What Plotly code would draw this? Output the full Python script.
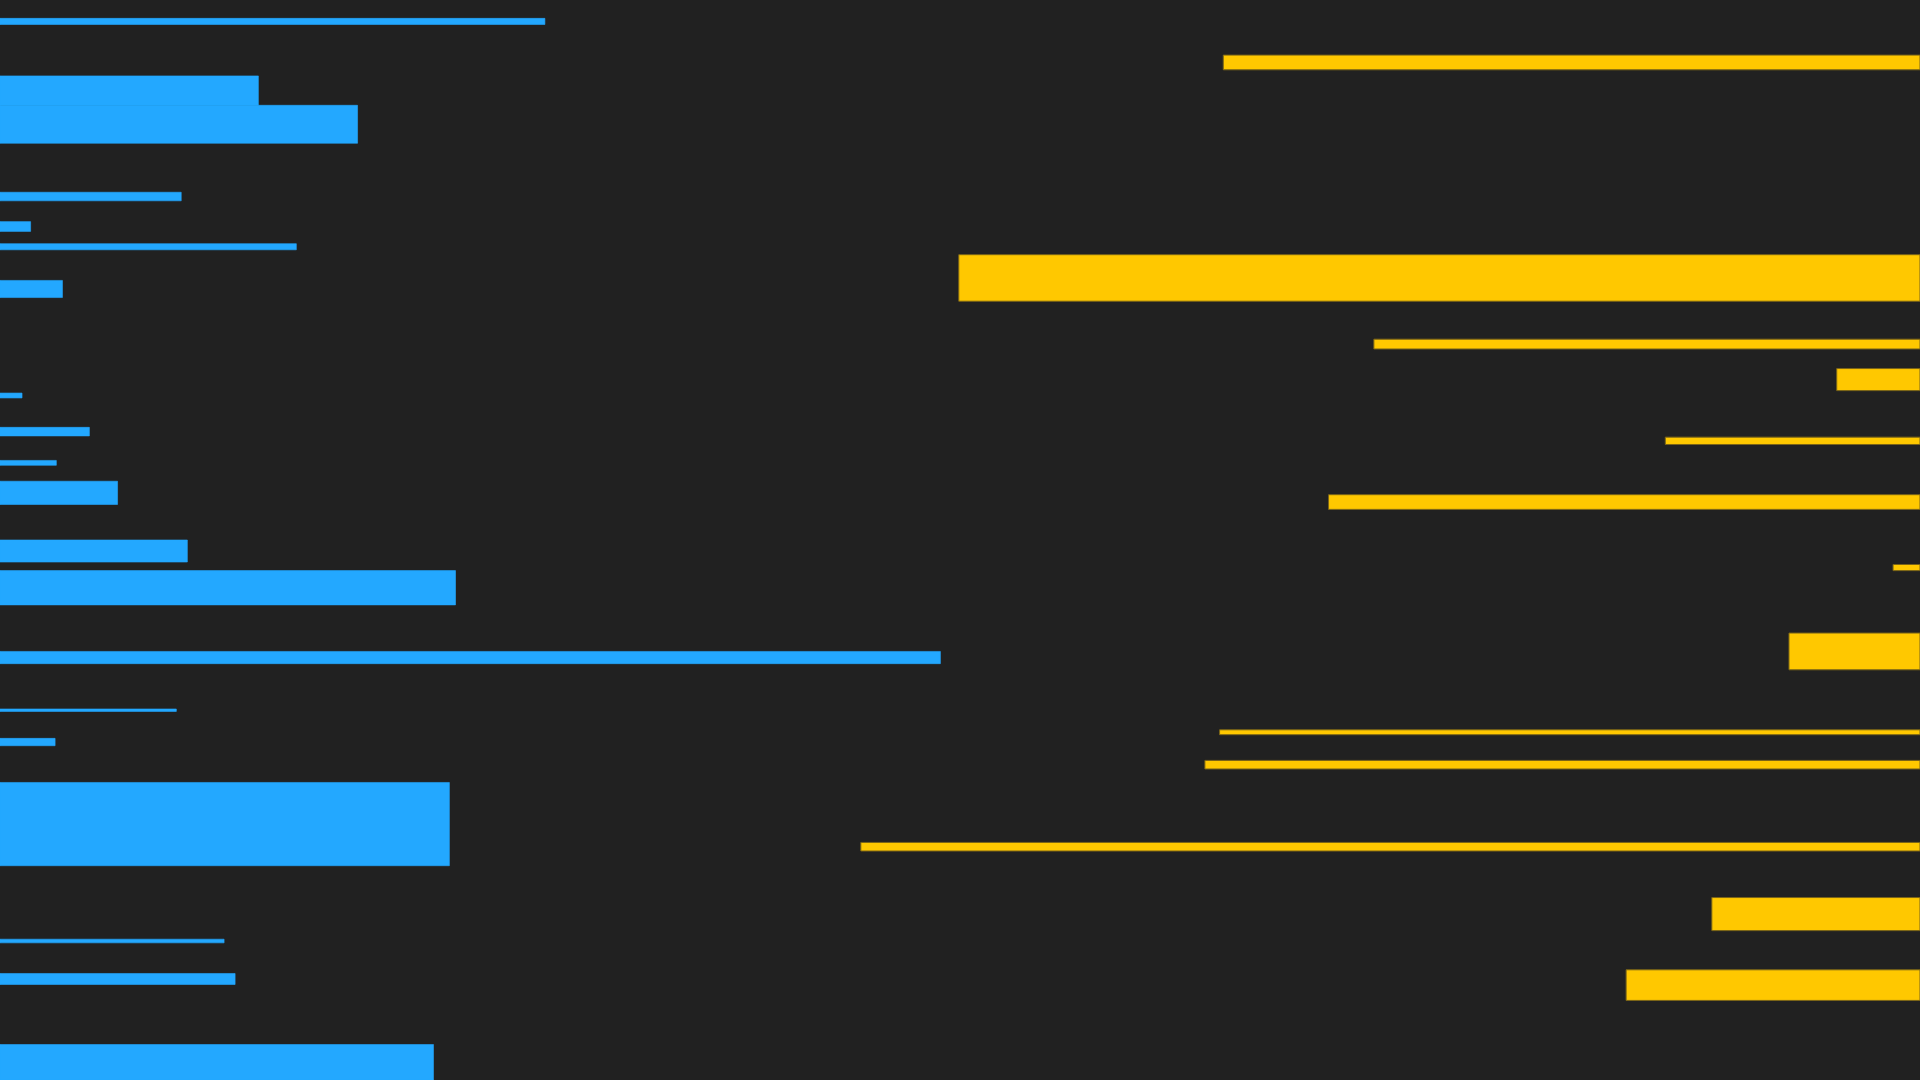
import plotly.graph_objects as go

# Barres bleues (depuis la gauche) : centre, épaisseur, longueur
blue_pos = [17.5, 74, 101.5, 160.5, 185, 201.5, 236, 323, 352.5, 378, 402.5,
            450, 480, 537, 580, 606, 673, 768.5, 799.5, 867.5]
blue_thick = [5, 24, 31, 7, 8, 5, 14, 4, 7, 4, 19, 18, 28, 10, 2, 6, 68, 3, 9, 29]
blue_len = [445, 211, 292, 148, 25, 242, 51, 18, 73, 46, 96, 153, 372, 768,
            144, 45, 367, 183, 192, 354]

# Barres jaunes (depuis la droite) : centre, épaisseur, longueur
yellow_pos = [51, 227, 281, 310, 360, 410, 463.5, 532, 598, 624.5, 691.5, 746.5, 804.5]
yellow_thick = [12, 38, 8, 18, 6, 12, 5, 30, 4, 7, 7, 27, 25]
yellow_len = [569, 785, 446, 68, 208, 483, 22, 107, 572, 584, 865, 170, 240]

X_MAX = 1568
Y_MAX = 882

fig = go.Figure()

# Contour de la même couleur pour masquer les jointures entre barres voisines
fig.add_trace(go.Bar(
    x=blue_len, y=blue_pos, width=blue_thick, orientation='h',
    marker=dict(color='#23A8FF', line=dict(width=0.6, color='#23A8FF')),
    xaxis='x', yaxis='y', hoverinfo='skip'
))

# Axe x inversé pour que les barres jaunes partent du bord droit
fig.add_trace(go.Bar(
    x=yellow_len, y=yellow_pos, width=yellow_thick, orientation='h',
    marker=dict(color='#FFC800', line=dict(width=1, color='#7a6418')),
    xaxis='x2', yaxis='y', hoverinfo='skip'
))

fig.update_layout(
    width=1920, height=1080,
    margin=dict(l=0, r=0, t=0, b=0),
    paper_bgcolor='#212121', plot_bgcolor='#212121',
    showlegend=False, barmode='overlay',
    xaxis=dict(range=[0, X_MAX], visible=False, fixedrange=True),
    xaxis2=dict(range=[X_MAX, 0], visible=False, overlaying='x', fixedrange=True),
    yaxis=dict(range=[Y_MAX, 0], visible=False, fixedrange=True),
)

# Pas de marge blanche autour du graphique dans la page
fig.write_html(
    "out.html",
    config={'displayModeBar': False},
    post_script="document.body.style.margin='0';"
                "document.body.style.overflow='hidden';"
                "document.body.style.background='#212121';"
)
